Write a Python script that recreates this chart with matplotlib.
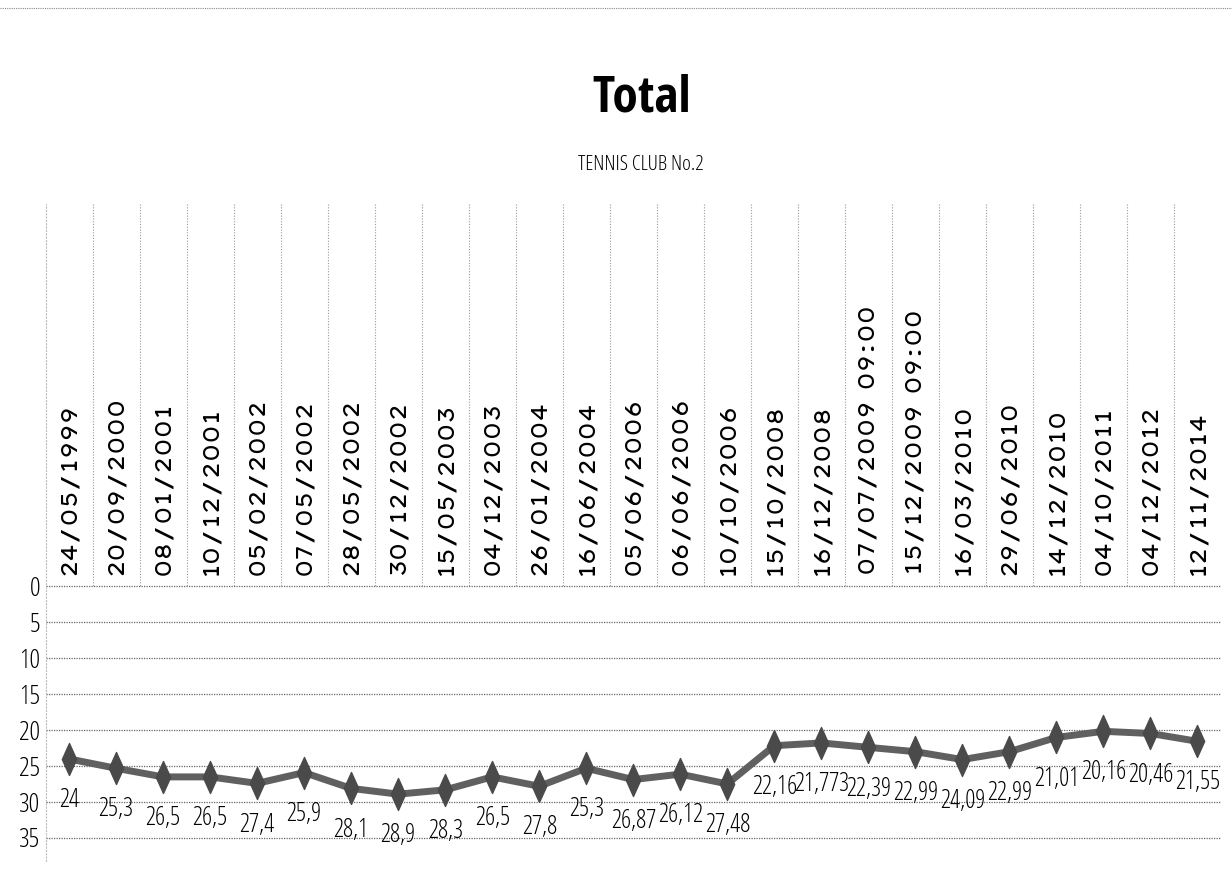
import matplotlib
matplotlib.use("Agg")
import matplotlib.pyplot as plt
from matplotlib.path import Path

dates = ["24/05/1999", "20/09/2000", "08/01/2001", "10/12/2001", "05/02/2002",
         "07/05/2002", "28/05/2002", "30/12/2002", "15/05/2003", "04/12/2003",
         "26/01/2004", "16/06/2004", "05/06/2006", "06/06/2006", "10/10/2006",
         "15/10/2008", "16/12/2008", "07/07/2009 09:00", "15/12/2009 09:00",
         "16/03/2010", "29/06/2010", "14/12/2010", "04/10/2011", "04/12/2012",
         "12/11/2014"]
totals = [24, 25.3, 26.5, 26.5, 27.4, 25.9, 28.1, 28.9, 28.3, 26.5, 27.8, 25.3,
          26.87, 26.12, 27.48, 22.16, 21.773, 22.39, 22.99, 24.09, 22.99, 21.01,
          20.16, 20.46, 21.55]
y_ticks = [0, 5, 10, 15, 20, 25, 30, 35]

narrow = dict(family=["Open Sans", "DejaVu Sans"], fontstretch="condensed", fontweight=300)
wide = dict(family=["Lexend Zetta", "DejaVu Sans Mono"])

fig = plt.figure(figsize=(12.32, 8.69), dpi=100)
ax = fig.add_axes([45.5 / 1232, 8 / 869, (1221 - 45.5) / 1232, (862 - 205) / 869])

x = list(range(len(totals)))
ax.set_xlim(-0.5, len(totals) - 0.5)
ax.set_ylim(38.2, -53.2)

# tall diamond marker
diamond = Path([(0, 1), (0.45, 0), (0, -1), (-0.45, 0), (0, 1)],
               [Path.MOVETO, Path.LINETO, Path.LINETO, Path.LINETO, Path.CLOSEPOLY])

for t in y_ticks:
    ax.axhline(t, color="#666666", lw=0.9, ls=(0, (1, 1)), zorder=1)
ax.vlines([i + 0.5 for i in x[:-1]], -53.2, 0, color="#999999", lw=0.8,
          linestyles=(0, (1, 1.5)), zorder=1)

ax.plot(x, totals, color="#606060", lw=5, marker=diamond, ms=23,
        mfc="#4a4a4a", mec="#4a4a4a", zorder=3)

for i, v in enumerate(totals):
    ax.annotate(f"{v:g}".replace(".", ","), (i, v), xytext=(0, -30),
                textcoords="offset points", ha="center", va="center",
                fontsize=18, color="#000000", **narrow)

for i, d in enumerate(dates):
    ax.text(i, -1.6, d, rotation=90, ha="center", va="bottom",
            fontsize=16, color="#000000", **wide)

ax.set_xticks([])
ax.set_yticks(y_ticks)
ax.set_yticklabels([str(t) for t in y_ticks], fontsize=19, **narrow)
ax.tick_params(axis="y", length=0, pad=4)
for s in ["top", "right", "bottom"]:
    ax.spines[s].set_visible(False)
ax.spines["left"].set_color("#bbbbbb")
ax.spines["left"].set_linestyle((0, (1, 2)))

fig.text(0.521, 1 - 98 / 869, "Total", ha="center", va="center",
         fontsize=37, fontweight="bold", family=["Open Sans Condensed", "DejaVu Sans"],
         fontstretch="condensed")
fig.text(0.52, 1 - 165 / 869, "TENNIS CLUB No.2", ha="center", va="center",
         fontsize=15, **narrow)
fig.add_artist(plt.Line2D([0, 1], [1 - 8 / 869] * 2, color="#888888", lw=0.8,
                          ls=(0, (1, 1))))

fig.savefig("out.png", dpi=100)
